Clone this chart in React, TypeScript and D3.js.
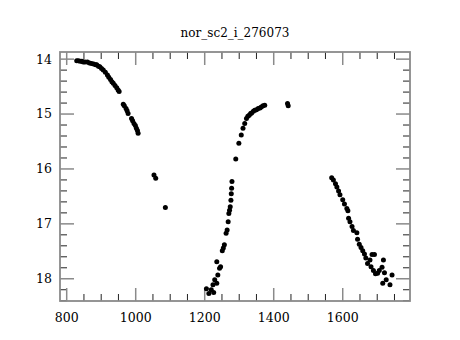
import React, { useEffect, useRef } from "react";
import * as d3 from "d3";

const title = "nor_sc2_i_276073";

const days = [
  829, 834, 839, 844, 848, 853, 860, 866, 872, 878, 884, 887, 892, 896, 901, 906,
  912, 918, 922, 927, 931, 935, 940, 945, 949, 952, 964, 967, 972, 975, 978, 988,
  991, 995, 999, 1002, 1005, 1007,
  1053, 1058, 1086,
  1205, 1212, 1219, 1224, 1229, 1226, 1235, 1238, 1243, 1235, 1246, 1251, 1254,
  1257, 1262, 1265, 1268, 1270, 1272, 1274, 1276, 1277, 1278, 1279, 1290, 1299,
  1306, 1311, 1316, 1321, 1325, 1329, 1333, 1336, 1341, 1345, 1350, 1355, 1360,
  1364, 1369, 1374,
  1440, 1442,
  1568, 1573, 1579, 1583, 1588, 1592, 1600, 1605, 1612, 1615, 1617, 1621, 1627,
  1631, 1641, 1643, 1648, 1653, 1658, 1663, 1667, 1672, 1679, 1682, 1685, 1692,
  1689, 1695, 1701, 1706, 1714, 1718, 1721, 1716, 1726, 1737, 1743,
];
const mags = [
  14.03, 14.03, 14.04, 14.04, 14.05, 14.05, 14.05, 14.07, 14.08, 14.09, 14.1, 14.1,
  14.13, 14.14, 14.17, 14.2, 14.24, 14.29, 14.33, 14.37, 14.41, 14.44, 14.48, 14.52,
  14.56, 14.59, 14.82, 14.85, 14.9, 14.94, 14.99, 15.08, 15.12, 15.17, 15.21, 15.26,
  15.3, 15.35,
  16.11, 16.17, 16.7,
  18.18, 18.27, 18.2, 18.11, 18.02, 18.25, 18.08, 17.93, 17.81, 17.69, 17.78, 17.49,
  17.44, 17.38, 17.17, 17.11, 16.96, 16.81, 16.75, 16.69, 16.57, 16.45, 16.35, 16.23,
  15.82, 15.53, 15.38, 15.26, 15.17, 15.08, 15.04, 15.02, 14.99, 14.98, 14.95, 14.93,
  14.92, 14.9, 14.89, 14.87, 14.85, 14.84,
  14.81, 14.85,
  16.16, 16.2, 16.27, 16.33, 16.4, 16.47, 16.56, 16.64, 16.72, 16.76, 16.9, 16.96,
  17.05, 17.12, 17.16, 17.28, 17.37, 17.43, 17.49, 17.55, 17.62, 17.72, 17.66, 17.78,
  17.56, 17.56, 17.85, 17.91, 17.9, 17.85, 17.79, 17.66, 17.89, 18.08, 18.02, 18.11,
  17.93,
];

const xMajor = [800, 1000, 1200, 1400, 1600];
const yMajor = [14, 15, 16, 17, 18];

const App = () => {
  const ref = useRef<SVGSVGElement>(null);

  useEffect(() => {
    const svg = d3.select(ref.current);
    svg.selectAll("*").remove();

    const left = 60, right = 410, top = 52, bottom = 301;
    const x = d3.scaleLinear().domain([780.6, 1795]).range([left, right]);
    const y = d3.scaleLinear().domain([13.87, 18.405]).range([top, bottom]);

    const font = "'DejaVu Serif', serif";
    const grey = "#8a8a8a";

    svg
      .append("text")
      .text(title)
      .attr("x", 235)
      .attr("y", 37)
      .attr("text-anchor", "middle")
      .attr("font-family", font)
      .attr("font-size", 12)
      .attr("fill", "#000");

    const g = svg.append("g");

    // minor ticks
    const xMinor = d3.range(800, 1795, 50).filter((v) => v % 200 !== 0);
    const yMinor = d3.range(14, 18.41, 0.2).filter((v) => Math.abs(v - Math.round(v)) > 0.01);
    xMinor.forEach((v) => {
      g.append("line").attr("x1", x(v)).attr("x2", x(v)).attr("y1", bottom).attr("y2", bottom - 7).attr("stroke", "#222");
      g.append("line").attr("x1", x(v)).attr("x2", x(v)).attr("y1", top).attr("y2", top + 7).attr("stroke", "#222");
    });
    yMinor.forEach((v) => {
      g.append("line").attr("y1", y(v)).attr("y2", y(v)).attr("x1", left).attr("x2", left + 7).attr("stroke", "#222");
      g.append("line").attr("y1", y(v)).attr("y2", y(v)).attr("x1", right).attr("x2", right - 7).attr("stroke", "#222");
    });
    // major ticks
    xMajor.forEach((v) => {
      g.append("line").attr("x1", x(v)).attr("x2", x(v)).attr("y1", bottom).attr("y2", bottom - 13).attr("stroke", grey).attr("stroke-width", 1.5);
      g.append("line").attr("x1", x(v)).attr("x2", x(v)).attr("y1", top).attr("y2", top + 13).attr("stroke", grey).attr("stroke-width", 1.5);
      g.append("text")
        .text(v)
        .attr("x", x(v))
        .attr("y", 322)
        .attr("text-anchor", "middle")
        .attr("font-family", font)
        .attr("font-size", 12.5);
    });
    yMajor.forEach((v) => {
      g.append("line").attr("y1", y(v)).attr("y2", y(v)).attr("x1", left).attr("x2", left + 14).attr("stroke", grey).attr("stroke-width", 1.5);
      g.append("line").attr("y1", y(v)).attr("y2", y(v)).attr("x1", right).attr("x2", right - 14).attr("stroke", grey).attr("stroke-width", 1.5);
      g.append("text")
        .text(v)
        .attr("x", 52)
        .attr("y", y(v))
        .attr("dy", "0.35em")
        .attr("text-anchor", "end")
        .attr("font-family", font)
        .attr("font-size", 12.5);
    });

    g.append("rect")
      .attr("x", left)
      .attr("y", top)
      .attr("width", right - left)
      .attr("height", bottom - top)
      .attr("fill", "none")
      .attr("stroke", grey)
      .attr("stroke-width", 1.8);

    svg
      .append("g")
      .selectAll("circle")
      .data(days)
      .enter()
      .append("circle")
      .attr("cx", (d) => x(d))
      .attr("cy", (d, i) => y(mags[i]))
      .attr("r", 2.5)
      .attr("fill", "#000");
  }, []);

  return (
    <svg
      ref={ref}
      width={460}
      height={340}
      style={{ position: "absolute", left: 0, top: 0, background: "#fff" }}
    ></svg>
  );
};

export default App;
